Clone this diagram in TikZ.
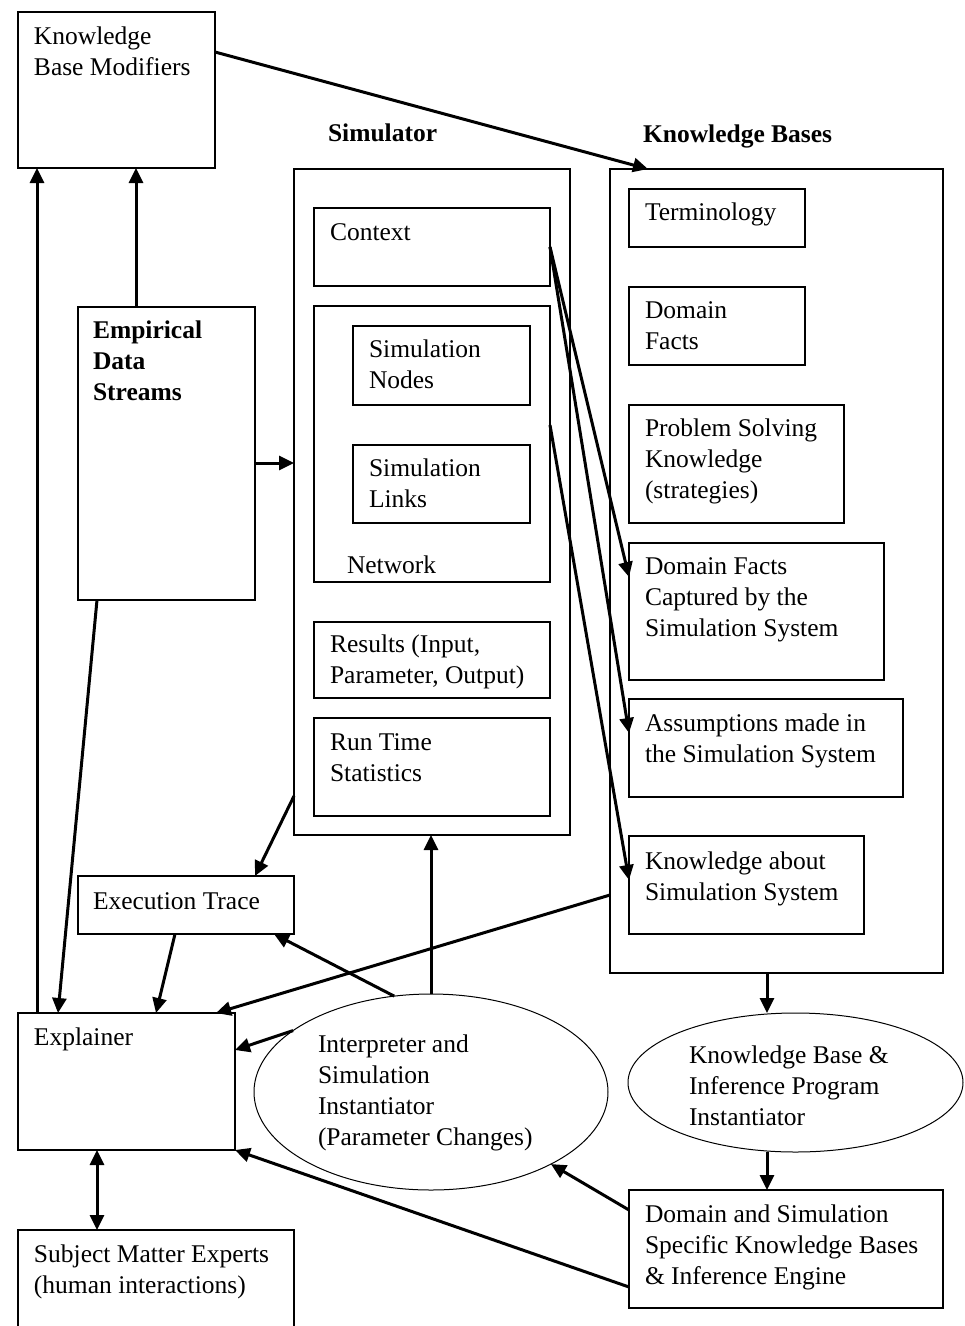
\documentclass[tikz,border=0pt]{standalone}
\usepackage{fontspec}
\setmainfont{Liberation Serif}
\usetikzlibrary{arrows.meta,shapes.geometric,calc}

% box given by its top-left and bottom-right corners (y grows downward)
\newcommand{\mkbox}[5]{\node[box, anchor=north west,
  minimum width={(#4)-(#2)}, minimum height={(#5)-(#3)}] (#1) at (#2,#3) {};}
% text block placed by its left edge and first baseline
\newcommand{\mklbl}[5][]{\node[lbl,#1] (#2) at (#3,{#4-21.7}) {\strut #5};}

\begin{document}
\begin{tikzpicture}[x=1pt,y=-1pt,
  box/.style={draw, line width=1.6pt, inner sep=0pt, outer sep=0pt},
  oval/.style={draw, ellipse, line width=1pt, inner sep=0pt, outer sep=0pt},
  lbl/.style={inner sep=0pt, outer sep=0pt, align=left, anchor=north west,
    font=\fontsize{25.5}{31}\selectfont},
  bold/.style={font=\fontsize{25.5}{31}\selectfont\bfseries},
  tip/.tip={Triangle[length=15pt,width=14pt]},
  arr/.style={line width=3pt, -tip},
  dbl/.style={line width=3pt, tip-tip}
]
\useasboundingbox (0,0) rectangle (965,1326);
\clip (0,0) rectangle (965,1326);

% ---- boxes ----
\mkbox{kbm}{18}{12}{215}{168}
\mkbox{sim}{294}{169}{570}{835}
\mkbox{kbs}{610}{169}{943}{973}
\mkbox{ctx}{314}{208}{550}{286}
\mkbox{net}{314}{306}{550}{582}
\mkbox{snodes}{353}{326}{530}{405}
\mkbox{slinks}{353}{445}{530}{523}
\mkbox{res}{314}{622}{550}{698}
\mkbox{run}{314}{718}{550}{816}
\mkbox{emp}{78}{307}{255}{600}
\mkbox{term}{629}{189}{805}{247}
\mkbox{dfacts}{629}{287}{805}{365}
\mkbox{psk}{629}{405}{844}{523}
\mkbox{dfc}{629}{543}{884}{680}
\mkbox{assum}{629}{699}{903}{797}
\mkbox{kas}{629}{836}{864}{934}
\mkbox{exe}{78}{876}{294}{934}
\mkbox{expl}{18}{1013}{235}{1150}
\mkbox{sme}{18}{1230}{294}{1340}
\mkbox{dss}{629}{1190}{943}{1308}

% ---- ellipses ----
\node[oval, minimum width=354pt, minimum height=196pt] (interp) at (431,1092) {};
\node[oval, minimum width=335pt, minimum height=139pt] (kbi) at (795.5,1082.5) {};

% ---- texts ----
\mklbl{tkbm}{34}{44}{Knowledge\\Base Modifiers}
\mklbl[bold]{tsim}{328}{141}{Simulator}
\mklbl[bold]{tkb}{643}{142}{Knowledge Bases}
\mklbl{tctx}{330}{240}{Context}
\mklbl{tnodes}{369}{357}{Simulation\\Nodes}
\mklbl{tlinks}{369}{476}{Simulation\\Links}
\mklbl{tnet}{347}{573}{Network}
\mklbl{tres}{330}{652}{Results (Input,\\Parameter, Output)}
\mklbl{trun}{330}{750}{Run Time\\Statistics}
\mklbl[bold]{temp}{93}{338}{Empirical\\Data\\Streams}
\mklbl{tterm}{645}{220}{Terminology}
\mklbl{tdf}{645}{318}{Domain\\Facts}
\mklbl{tps}{645}{436}{Problem Solving\\Knowledge\\(strategies)}
\mklbl{tdfc}{645}{574}{Domain Facts\\Captured by the\\Simulation System}
\mklbl{tass}{645}{731}{Assumptions made in\\the Simulation System}
\mklbl{tkas}{645}{869}{Knowledge about\\Simulation System}
\mklbl{texe}{93}{909}{Execution Trace}
\mklbl{texp}{34}{1045}{Explainer}
\mklbl{tint}{318}{1052}{Interpreter and\\Simulation\\Instantiator\\(Parameter Changes)}
\mklbl{tkbi}{689}{1063}{Knowledge Base \&\\Inference Program\\Instantiator}
\mklbl{tdss}{645}{1222}{Domain and Simulation\\Specific Knowledge Bases\\\& Inference Engine}
\mklbl{tsme}{34}{1262}{Subject Matter Experts\\(human interactions)}

% ---- connectors ----
\draw[arr] ($(kbm.north east)+(0,40)$) -- ($(kbs.north west)+(38,0)$);
\draw[arr] ($(expl.north west)+(19,0)$) -- ($(kbm.south west)+(19,0)$);
\draw[arr] ($(emp.north west)+(58,0)$) -- ($(kbm.south west)+(118,0)$);
\draw[arr] ($(emp.north east)+(0,156)$) -- ($(sim.north west)+(0,294)$);
\draw[arr] ($(emp.south west)+(19,0)$) -- ($(expl.north west)+(40,0)$);
\draw[arr] ($(sim.north west)+(0,627)$) -- ($(exe.north west)+(177,0)$);
\draw[arr] ($(exe.south west)+(97,0)$) -- ($(expl.north west)+(138,0)$);
\draw[arr] ($(kbs.north west)+(0,726)$) -- ($(expl.north west)+(198,0)$);
\draw[arr] (interp.156) -- ($(expl.north east)+(0,37)$);
\draw[arr] (interp.111) -- ($(exe.south east)+(-20,0)$);
\draw[arr] (interp.north) -- (interp.north |- sim.south);
\coordinate (ka) at ($(kbs.south west)+(157,0)$);
\draw[arr] (ka) -- (ka |- kbi.north);
\draw[arr] (ka |- kbi.south) -- (ka |- dss.north);
\draw[arr] ($(dss.north west)+(0,20)$) -- (interp.-31);
\draw[arr] ($(dss.north west)+(0,97)$) -- (expl.south east);
\draw[dbl] ($(expl.south west)+(79,0)$) -- ($(sme.north west)+(79,0)$);
\draw[arr] (ctx.east) -- ($(dfc.north west)+(0,34)$);
\draw[arr] (ctx.east) -- ($(assum.north west)+(0,34)$);
\draw[arr] ($(net.north east)+(0,119)$) -- ($(kas.north west)+(0,44)$);
\end{tikzpicture}
\end{document}
